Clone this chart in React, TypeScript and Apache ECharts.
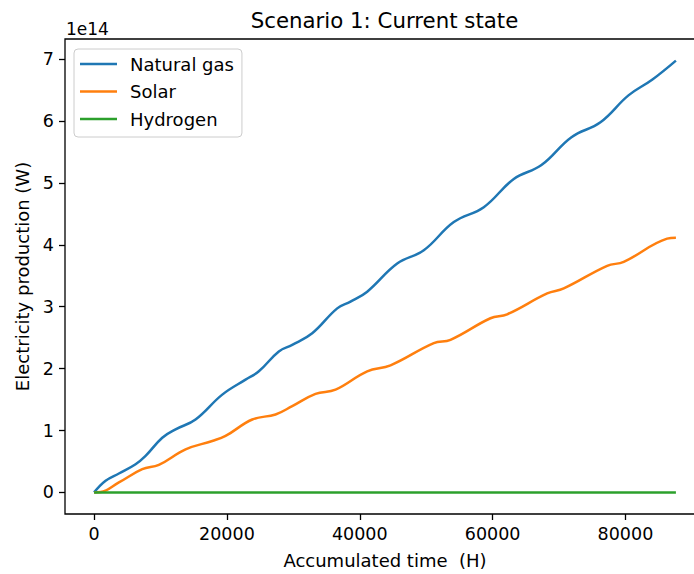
import React, { useEffect, useRef } from "react";
import * as echarts from "echarts";

// Values in units of 1e14 W; time in hours
const gasHours = [0, 1731, 3733, 6247, 7752, 10265, 12267, 15277, 19297, 22804, 24806, 27816, 29833, 32843, 36607, 38608, 41122, 45638, 49642, 54157, 58673, 63188, 67358, 71873, 76238, 80455, 84067, 87600];
const gasValues = [0, 0.188, 0.305, 0.455, 0.59, 0.884, 1.018, 1.178, 1.58, 1.822, 1.957, 2.278, 2.384, 2.572, 2.974, 3.082, 3.243, 3.698, 3.912, 4.368, 4.609, 5.064, 5.289, 5.74, 5.981, 6.415, 6.672, 6.977];

const solarHours = [0, 978, 3733, 7255, 9754, 13773, 17791, 19793, 23812, 27319, 29833, 33340, 36351, 41122, 44629, 51147, 53660, 59681, 62195, 68216, 70714, 77247, 79746, 86278, 87600];
const solarValues = [0, 0.005, 0.161, 0.375, 0.445, 0.696, 0.831, 0.912, 1.178, 1.259, 1.394, 1.592, 1.661, 1.957, 2.053, 2.412, 2.465, 2.814, 2.878, 3.215, 3.296, 3.661, 3.725, 4.1, 4.116];

const hydrogenHours = [0, 87600];
const hydrogenValues = [0, 0];

const xTicks = [0, 20000, 40000, 60000, 80000];
const yTicks = [0, 1, 2, 3, 4, 5, 6, 7];
const seriesNames = ["Natural gas", "Solar", "Hydrogen"];
const colors = ["#1f77b4", "#ff7f0e", "#2ca02c"];

const titleText = "Scenario 1: Current state";
const xName = "Accumulated time  (H)";
const yName = "Electricity production (W)";
const offsetText = "1e14";

const FONT = "DejaVu Sans";

export default function App() {
  const ref = useRef<HTMLDivElement>(null);
  useEffect(() => {
    if (!ref.current) return;
    const chart = echarts.init(ref.current, undefined, { renderer: "svg" });
    const pairs = (h: number[], v: number[]) => h.map((x, i) => [x, v[i]]);
    const lab = { fontFamily: FONT, fontSize: 17.5, color: "#000" };
    chart.setOption({
      animation: false,
      backgroundColor: "#ffffff",
      color: colors,
      grid: {
        left: 65,
        top: 39,
        width: 640,
        height: 478,
        show: true,
        borderColor: "#000",
        borderWidth: 1.3,
        backgroundColor: "transparent",
      },
      xAxis: {
        type: "value",
        min: -4380,
        max: 91980,
        axisLine: { show: false, onZero: false },
        splitLine: { show: false },
        axisTick: { show: true, length: 6, customValues: xTicks, lineStyle: { color: "#000", width: 1.3 } },
        axisLabel: { ...lab, customValues: xTicks, margin: 11, formatter: (v: number) => String(v) },
        name: xName,
        nameLocation: "middle",
        nameGap: 37,
        nameTextStyle: { ...lab, fontSize: 18 },
      },
      yAxis: {
        type: "value",
        min: -0.349,
        max: 7.326,
        axisLine: { show: false, onZero: false },
        splitLine: { show: false },
        axisTick: { show: true, length: 6, customValues: yTicks, lineStyle: { color: "#000", width: 1.3 } },
        axisLabel: { ...lab, customValues: yTicks, margin: 11, formatter: (v: number) => String(v) },
        name: yName,
        nameLocation: "middle",
        nameRotate: 90,
        nameGap: 34,
        nameTextStyle: { ...lab, fontSize: 18 },
      },
      legend: {
        orient: "vertical",
        left: 74,
        top: 49,
        padding: [6, 8, 9, 6],
        itemWidth: 37,
        itemHeight: 2.5,
        itemGap: 9.5,
        icon: "rect",
        backgroundColor: "rgba(255,255,255,0.8)",
        borderColor: "#cccccc",
        borderWidth: 1,
        borderRadius: 4,
        textStyle: { fontFamily: FONT, fontSize: 18, color: "#000", lineHeight: 17.8, padding: [0, 0, 0, 8] },
        data: seriesNames,
      },
      graphic: [
        {
          type: "text",
          x: 384.5,
          y: 20,
          style: {
            text: titleText,
            align: "center",
            verticalAlign: "middle",
            textAlign: "center",
            textVerticalAlign: "middle",
            font: `21.3px "${FONT}"`,
            fill: "#000",
          },
        },
        {
          type: "text",
          x: 66,
          y: 29,
          style: {
            text: offsetText,
            align: "left",
            verticalAlign: "middle",
            textAlign: "left",
            textVerticalAlign: "middle",
            font: `17px "${FONT}"`,
            fill: "#000",
          },
        },
      ],
      series: [
        {
          name: seriesNames[0],
          type: "line",
          data: pairs(gasHours, gasValues),
          symbol: "none",
          smooth: 0.4,
          lineStyle: { width: 2.5, color: colors[0] },
        },
        {
          name: seriesNames[1],
          type: "line",
          data: pairs(solarHours, solarValues),
          symbol: "none",
          smooth: 0.4,
          lineStyle: { width: 2.5, color: colors[1] },
        },
        {
          name: seriesNames[2],
          type: "line",
          data: pairs(hydrogenHours, hydrogenValues),
          symbol: "none",
          lineStyle: { width: 2.5, color: colors[2] },
        },
      ],
    });
    return () => chart.dispose();
  }, []);
  return (
    <div
      ref={ref}
      style={{ position: "fixed", left: 0, top: 0, width: 720, height: 574, background: "#fff" }}
    />
  );
}
